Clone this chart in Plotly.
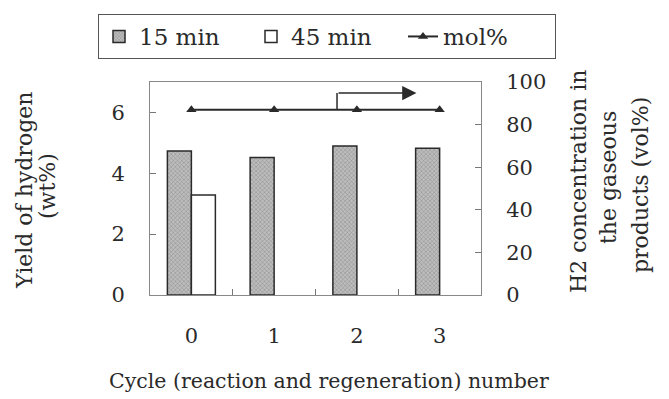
import plotly.graph_objects as go

cycles = ["0", "1", "2", "3"]
yield_15 = [4.73, 4.52, 4.90, 4.82]
yield_45 = [3.29, None, None, None]
mol_pct = [87, 87, 87, 87]

FONT = "DejaVu Serif"
TXT = "#2a2a2a"
W, H = 669, 399
PL, PR, PT, PB = 150, 481, 82, 295  # plot area edges in px


def px_x(px):
    return (px - PL) / (PR - PL)


def px_y(py):
    return (PB - py) / (PB - PT)


fig = go.Figure()
fig.add_trace(go.Bar(
    x=cycles, y=yield_15, name="15 min",
    marker=dict(color="#a8a8a8", line=dict(color="#2a2a2a", width=1.5),
                pattern=dict(shape="x", size=3, fgcolor="#555555", bgcolor="#bdbdbd", solidity=0.3)),
))
fig.add_trace(go.Bar(
    x=cycles, y=yield_45, name="45 min",
    marker=dict(color="white", line=dict(color="#2a2a2a", width=1.5)),
))
fig.add_trace(go.Scatter(
    x=cycles, y=mol_pct, name="mol%", yaxis="y2", mode="lines+markers",
    line=dict(color="#2a2a2a", width=2),
    marker=dict(symbol="triangle-up", size=9, color="#2a2a2a"),
))

# arrow pointing toward the right axis
fig.add_shape(type="line", xref="x", yref="y2", x0=1.76, x1=1.76, y0=87, y1=94.8,
              line=dict(color="#2a2a2a", width=1.5))
fig.add_annotation(xref="x", yref="y2", axref="x", ayref="y2",
                   x=2.72, y=94.8, ax=1.76, ay=94.8, text="", showarrow=True,
                   arrowhead=2, arrowsize=1.9, arrowwidth=1.5, arrowcolor="#2a2a2a")

# axis titles placed as text (centres in px)
title_lines = [
    ("Yield of hydrogen", 24, 191, 22, -90),
    ("(wt%)", 47, 186, 22, -90),
    ("H2 concentration in", 578, 182, 22, -90),
    ("the gaseous", 608, 178, 22, -90),
    ("products (vol%)", 640, 185, 22, -90),
    ("Cycle (reaction and regeneration) number", 329, 381, 20.5, 0),
]
for txt, px, py, sz, ang in title_lines:
    fig.add_annotation(xref="paper", yref="paper", x=px_x(px), y=px_y(py),
                       xanchor="center", yanchor="middle", text=txt, showarrow=False,
                       textangle=ang, font=dict(size=sz, family=FONT, color=TXT))

fig.update_layout(
    width=W, height=H,
    margin=dict(l=PL, r=W - PR, t=PT, b=H - PB, autoexpand=False),
    paper_bgcolor="white", plot_bgcolor="white",
    font=dict(family=FONT, size=21, color=TXT),
    barmode="group", bargap=0.42, bargroupgap=0,
    showlegend=True,
    legend=dict(orientation="h", x=px_x(98), xanchor="left", y=px_y(14), yanchor="top",
                bordercolor="#555555", borderwidth=1, font=dict(size=23, family=FONT),
                tracegroupgap=0, entrywidth=107, entrywidthmode="pixels"),
    xaxis=dict(type="category", tickson="boundaries", ticks="inside", ticklen=6,
               tickcolor="#777777", showline=True, linecolor="#888888", linewidth=1,
               mirror=True, showgrid=False, ticklabelstandoff=22, automargin=False),
    yaxis=dict(range=[0, 7], tickvals=[0, 2, 4, 6], ticks="inside", ticklen=6,
               tickcolor="#777777", showline=True, linecolor="#888888", linewidth=1,
               showgrid=False, zeroline=False, ticklabelstandoff=20, automargin=False),
    yaxis2=dict(range=[0, 100], tickvals=[0, 20, 40, 60, 80, 100], overlaying="y", side="right",
                ticks="inside", ticklen=6, tickcolor="#777777", showline=True,
                linecolor="#888888", linewidth=1, showgrid=False, zeroline=False,
                ticklabelstandoff=20, automargin=False),
)

fig.write_html("out.html")
